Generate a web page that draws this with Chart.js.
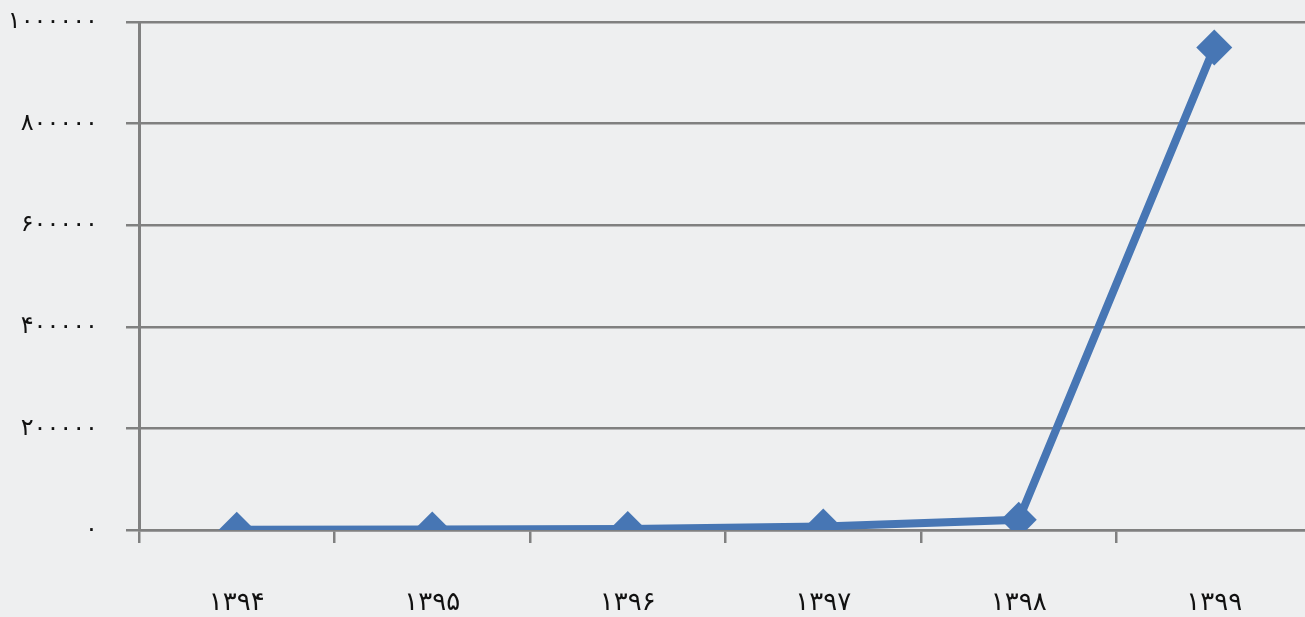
<!DOCTYPE html>
<html>
<head>
<meta charset="utf-8">
<script src="https://cdn.jsdelivr.net/npm/chart.js@4/dist/chart.umd.min.js"></script>
<style>
  html, body { margin: 0; padding: 0; overflow: hidden; background: #eeeff0; }
  #wrap { width: 1330px; height: 617px; }
</style>
</head>
<body>
<div id="wrap"><canvas id="c" width="1330" height="617"></canvas></div>
<script>
const categories = ['۱۳۹۴', '۱۳۹۵', '۱۳۹۶', '۱۳۹۷', '۱۳۹۸', '۱۳۹۹'];
const seriesValues = [500, 1000, 2000, 7000, 20000, 950000];
const yTickValues = [0, 200000, 400000, 600000, 800000, 1000000];
const yTickLabels = ['۰', '۲۰۰۰۰۰', '۴۰۰۰۰۰', '۶۰۰۰۰۰', '۸۰۰۰۰۰', '۱۰۰۰۰۰۰'];

const lineColor = '#4776b4';
const gridColor = '#808080';

new Chart(document.getElementById('c'), {
  type: 'line',
  data: {
    labels: categories,
    datasets: [{
      data: seriesValues,
      borderColor: lineColor,
      backgroundColor: lineColor,
      borderWidth: 8,
      tension: 0,
      pointStyle: 'rectRot',
      pointRadius: 18,
      pointHoverRadius: 18,
      pointBorderWidth: 0,
      pointBackgroundColor: lineColor
    }]
  },
  options: {
    responsive: false,
    animation: false,
    layout: { padding: { top: 22, right: 0, left: 0, bottom: 0 } },
    plugins: { legend: { display: false }, tooltip: { enabled: false } },
    scales: {
      x: {
        offset: true,
        grid: {
          display: true,
          offset: true,
          drawOnChartArea: false,
          drawTicks: true,
          tickLength: 13,
          color: gridColor,
          lineWidth: 2.5
        },
        border: { display: true, color: gridColor, width: 2.5 },
        ticks: {
          color: '#111',
          font: { family: 'DejaVu Sans', size: 26 },
          padding: 45,
          maxRotation: 0
        },
        afterFit: (s) => { s.height = 87; s.paddingLeft = 0; s.paddingRight = 0; }
      },
      y: {
        min: 0,
        max: 1000000,
        afterBuildTicks: (s) => { s.ticks = yTickValues.map(v => ({ value: v })); },
        grid: {
          color: gridColor,
          lineWidth: 2.5,
          tickLength: 13,
          drawTicks: true
        },
        border: { display: true, color: gridColor, width: 3 },
        ticks: {
          color: '#111',
          font: { family: 'DejaVu Sans', size: 24 },
          padding: 28,
          callback: (v) => yTickLabels[yTickValues.indexOf(v)]
        },
        afterFit: (s) => { s.width = 139; s.paddingTop = 0; s.paddingBottom = 0; }
      }
    }
  }
});
</script>
</body>
</html>
